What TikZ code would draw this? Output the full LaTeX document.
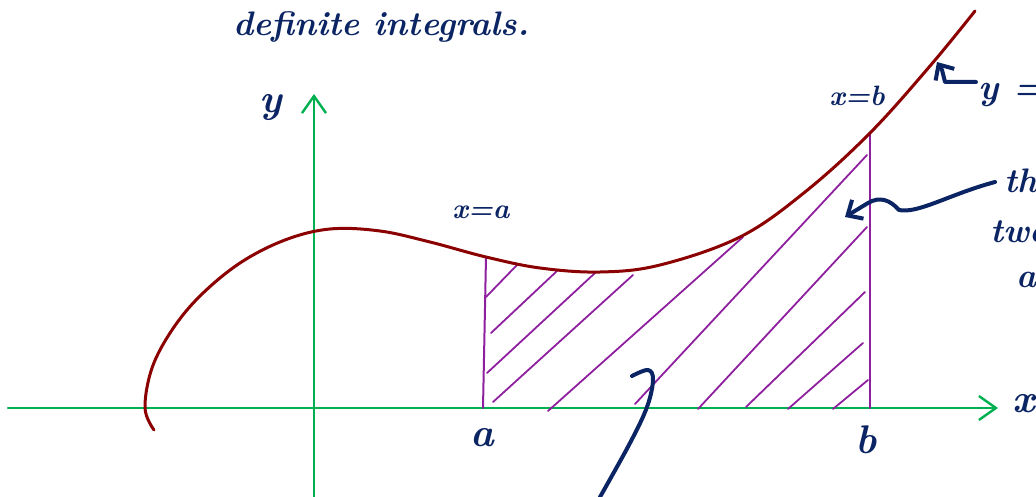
\documentclass[tikz,border=0pt]{standalone}
\usetikzlibrary{arrows.meta}
\definecolor{cnavy}{HTML}{0B2463}
\definecolor{cgreen}{HTML}{00B050}
\definecolor{cred}{HTML}{8B0000}
\definecolor{cpurple}{HTML}{8E1F9E}
\tikzset{
  every picture/.style={line cap=round, line join=round},
  axis/.style={draw=cgreen, line width=2.4pt, -{Straight Barb[length=17pt, width=24pt]}},
  graph/.style={draw=cred, line width=3pt},
  bound/.style={draw=cpurple, line width=2pt},
  hatch/.style={draw=cpurple, line width=1.8pt},
  ink/.style={draw=cnavy, line width=4pt},
  pointer/.style={ink, -{Straight Barb[length=12pt, width=22pt]}},
  hand/.style={text=cnavy, inner sep=0pt, font=\bfseries\itshape\fontsize{#1}{#1}\selectfont},
  hand/.default=38,
}
\begin{document}
\begin{tikzpicture}[x=1pt, y=-1pt]
  \useasboundingbox (0,0) rectangle (1036,497);
  % texts
  \node[hand=34, anchor=base west] (title) at (233,36) {definite integrals.};
  \node[hand=40] (ylab) at (271,108) {y};
  \node[hand=40, anchor=west] (xlab) at (1012,404) {x};
  \node[hand=28] (xeqa) at (481,212) {x=a};
  \node[hand=28] (xeqb) at (857,96) {x=b};
  \node[hand=40] (alab) at (482,438) {a};
  \node[hand=40] (blab) at (866,440) {b};
  \node[hand=36, anchor=base west] (yeqf) at (978,100) {y = f(x)};
  \node[hand=34, anchor=base west] (note1) at (1004,193) {the area};
  \node[hand=34, anchor=base west] (note2) at (990,243) {two lines};
  \node[hand=34, anchor=base west] (note3) at (1016,287) {and};
  % points
  \coordinate (o1) at (8,408);
  \coordinate (o2) at (998,408);
  \coordinate (y1) at (314,497);
  \coordinate (y2) at (314,94);
  \coordinate (fa) at (486,257);
  \coordinate (a0) at (483,408);
  \coordinate (fb) at (870,133);
  \coordinate (b0) at (870,408);
  \coordinate (fy) at (937,62);
  \coordinate (region) at (845,217);
  % axes
  \draw[axis] (o1) -- (o2);
  \draw[axis] (y1) -- (y2);
  % hatching
  \foreach \xa/\ya/\xb/\yb in {486/297/517/265, 491/333/557/271, 487/373/595/273,
      493/402/633/275, 548/411/743/237, 635/404/867/155, 698/409/867/227,
      746/407/865/292, 788/409/863/343, 833/409/868/380}
    \draw[hatch] (\xa,\ya) -- (\xb,\yb);
  \draw[bound] (fa) -- (a0);
  \draw[bound] (fb) -- (b0);
  % the curve
  \draw[graph] plot[smooth, tension=0.6] coordinates {(154,430) (145,408) (152,368)
      (172,330) (200,296) (240,263) (285,240) (330,229) (380,231) (430,242) (fa)
      (540,268) (600,272) (660,265) (740,237) (805,192) (fb) (930,66) (975,11)};
  % pointers
  \draw[pointer] (yeqf.base west) ++(-2,-18) -- (945,82) -- (942,70) -- (fy);
  \draw[pointer] (note1.base west) ++(-9,-11) .. controls (950,194) and (918,214) .. (899,210)
      .. controls (890,200) and (880,196) .. (868,203) -- (region);
  \draw[ink] plot[smooth, tension=0.6] coordinates {(600,497) (630,443) (647,407)
      (653,380) (648,370) (632,376)};
\end{tikzpicture}
\end{document}
